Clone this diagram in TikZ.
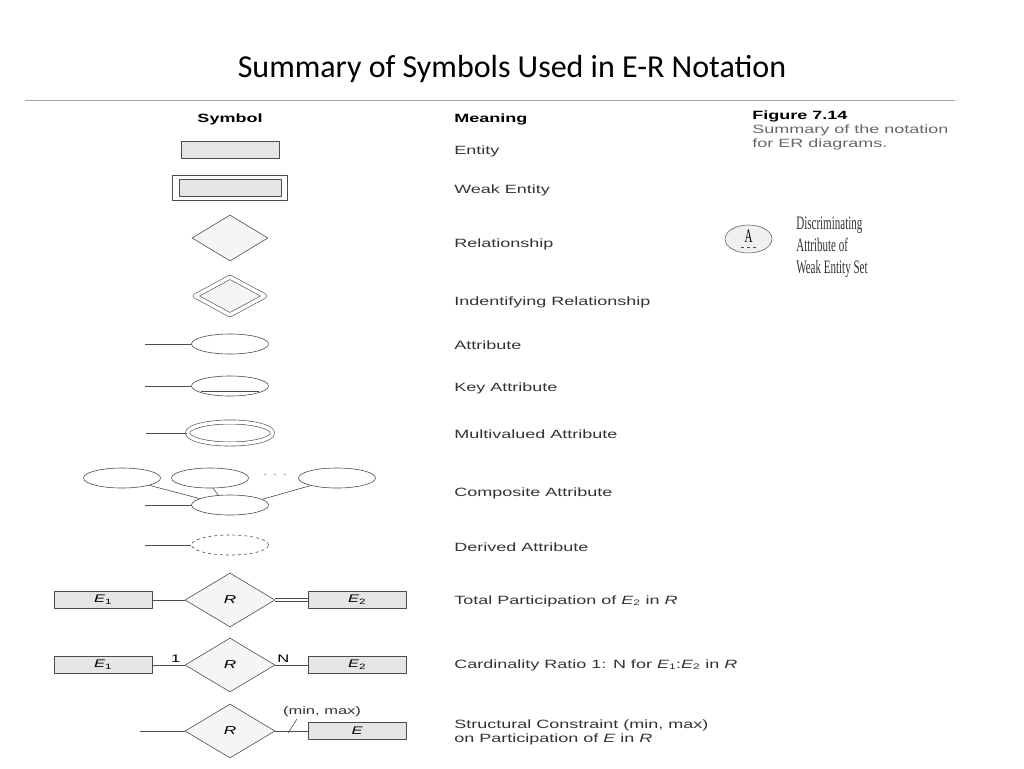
\documentclass[tikz,border=0pt]{standalone}
\usepackage{fontspec}
\setmainfont{Carlito}
\newfontfamily\helv[FakeStretch=1.5]{Liberation Sans}
\newfontfamily\cond[FakeStretch=0.58]{Liberation Serif}
\usetikzlibrary{calc,shapes.geometric}
\definecolor{linec}{gray}{0.3}
\definecolor{boxfill}{gray}{0.9}
\definecolor{relfill}{gray}{0.96}
\definecolor{txtc}{gray}{0.2}
\tikzset{
  ent/.style={draw=linec,fill=boxfill,minimum width=98,minimum height=17,inner sep=0,font=\helv\fontsize{11}{12}\selectfont},
  rel/.style={diamond,draw=linec,fill=relfill,minimum width=76,minimum height=46,inner sep=0,font=\helv\fontsize{11.5}{12}\selectfont},
  bigrel/.style={rel,minimum width=90,minimum height=54},
  attr/.style={ellipse,draw=linec,fill=white,minimum width=77,minimum height=20,inner sep=0},
  lbl/.style={anchor=west,inner sep=0,text=txtc,font=\helv\fontsize{12}{14}\selectfont},
  head/.style={inner sep=0,font=\helv\bfseries\fontsize{12}{14}\selectfont}
}
\newcommand{\subE}[1]{{\itshape E}\textsubscript{#1}}
\begin{document}
\begin{tikzpicture}[x=1pt,y=-1pt,line join=round,draw=linec,line width=0.6]
\useasboundingbox (0,0) rectangle (1024,768);
% --- title
\node[font=\fontsize{32}{36}\selectfont] (title) at (512,69) {Summary of Symbols Used in E-R Notation};
\draw[gray!70,line width=0.8] (25,100) -- (955,100);
% --- headers and figure caption
\node[head] (hsym) at (230,119) {Symbol};
\node[head,anchor=west] (hmean) at (454,119) {Meaning};
\node[anchor=north west,inner sep=0,align=left,text=black!60,font=\helv\fontsize{12}{14}\selectfont] (fig) at (752,111)
  {{\color{black}\bfseries Figure 7.14}\\Summary of the notation\\for ER diagrams.};
% --- entity, weak entity
\node[ent] (ent) at (230,150) {};
\node[draw=linec,fill=white,minimum width=115,minimum height=25,inner sep=0] (wkout) at (230,188) {};
\node[ent,minimum width=102,minimum height=17] (wk) at (230,188) {};
% --- relationships
\node[rel] (rel) at (230,238) {};
\node[rel,double,double distance=3.5,minimum width=70,minimum height=38] (idrel) at (230,296) {};
% --- discriminating attribute
\node[ellipse,draw=black!60,fill=gray!12,minimum width=47,minimum height=28,inner sep=0] (disc) at (748.5,239) {};
\node[font=\cond\fontsize{19}{19}\selectfont,inner sep=0] (discA) at ($(disc.center)+(0,-3)$) {A};
\draw[dash pattern=on 3 off 3] ($(disc.center)+(-7.5,8)$) -- ($(disc.center)+(7.5,8)$);
\node[anchor=north west,inner sep=0,align=left,text=black!80,font=\cond\fontsize{19}{22}\selectfont] (disct) at (796,217)
  {Discriminating\\Attribute of\\Weak Entity Set};
% --- attributes
\node[attr] (att) at (230,344) {};
\coordinate (atts) at (145,344);
\draw (atts) -- (att.west);
\node[attr] (key) at (230,386) {};
\coordinate (keys) at (145,386);
\draw (keys) -- (key.west);
\draw ($(key.center)+(-29,5)$) -- ($(key.center)+(29,5)$);
\node[attr,double,double distance=3.5,minimum width=85,minimum height=22] (mv) at (230,433) {};
\coordinate (mvs) at (146,433);
\draw (mvs) -- (mv.west);
% --- composite
\node[attr] (cmp1) at (122,478) {};
\node[attr] (cmp2) at (210,478) {};
\node[attr] (cmp3) at (337,478) {};
\node[attr] (cmp) at (230,505) {};
\node[text=gray,inner sep=0,font=\helv\fontsize{10}{10}\selectfont] (cdots) at (275,475) {. . .};
\coordinate (cmps) at (145,505);
\draw (cmps) -- (cmp.west);
\draw (cmp1.-15) -- (cmp.168);
\draw (cmp2.-73) -- (cmp.140);
\draw (cmp3.196) -- (cmp.10);
% --- derived
\node[attr,dashed] (der) at (230,545) {};
\coordinate (ders) at (145,545);
\draw (ders) -- (der.west);
% --- total participation
\node[ent] (tpa) at (103,600) {\subE{1}};
\node[bigrel] (tpr) at (230,600) {\itshape R};
\node[ent] (tpb) at (357,600) {\subE{2}};
\draw (tpa) -- (tpr);
\draw[double,double distance=2.5] (tpr.east) -- (tpb.west);
% --- cardinality ratio
\node[ent] (cra) at (103,665) {\subE{1}};
\node[bigrel] (crr) at (230,665) {\itshape R};
\node[ent] (crb) at (357,665) {\subE{2}};
\draw (cra) -- node[pos=0.72,above=1,inner sep=1,font=\helv\fontsize{11}{12}\selectfont] (cr1) {1} (crr);
\draw (crr) -- node[pos=0.25,above=1,inner sep=1,font=\helv\fontsize{11}{12}\selectfont] (crn) {N} (crb);
% --- structural constraint
\coordinate (scs) at (140,731);
\node[bigrel] (scr) at (230,731) {\itshape R};
\node[ent] (sce) at (357,731) {\itshape E};
\draw (scs) -- (scr);
\draw (scr) -- (sce);
\draw (288,733) -- (297,719);
\node[inner sep=0,text=txtc,font=\helv\fontsize{11}{12}\selectfont] (scmm) at (322,712) {(min, max)};
% --- meanings
\node[lbl] (m1) at (454,151) {Entity};
\node[lbl] (m2) at (454,190) {Weak Entity};
\node[lbl] (m3) at (454,244) {Relationship};
\node[lbl] (m4) at (454,302) {Indentifying Relationship};
\node[lbl] (m5) at (454,345) {Attribute};
\node[lbl] (m6) at (454,388) {Key Attribute};
\node[lbl] (m7) at (454,434) {Multivalued Attribute};
\node[lbl] (m8) at (454,493) {Composite Attribute};
\node[lbl] (m9) at (454,547) {Derived Attribute};
\node[lbl] (m10) at (454,601) {Total Participation of \subE{2} in {\itshape R}};
\node[lbl] (m11) at (454,665) {Cardinality Ratio 1: N for \subE{1}:\subE{2} in {\itshape R}};
\node[lbl,align=left] (m12) at (454,732) {Structural Constraint (min, max)\\on Participation of {\itshape E} in {\itshape R}};
\end{tikzpicture}
\end{document}
